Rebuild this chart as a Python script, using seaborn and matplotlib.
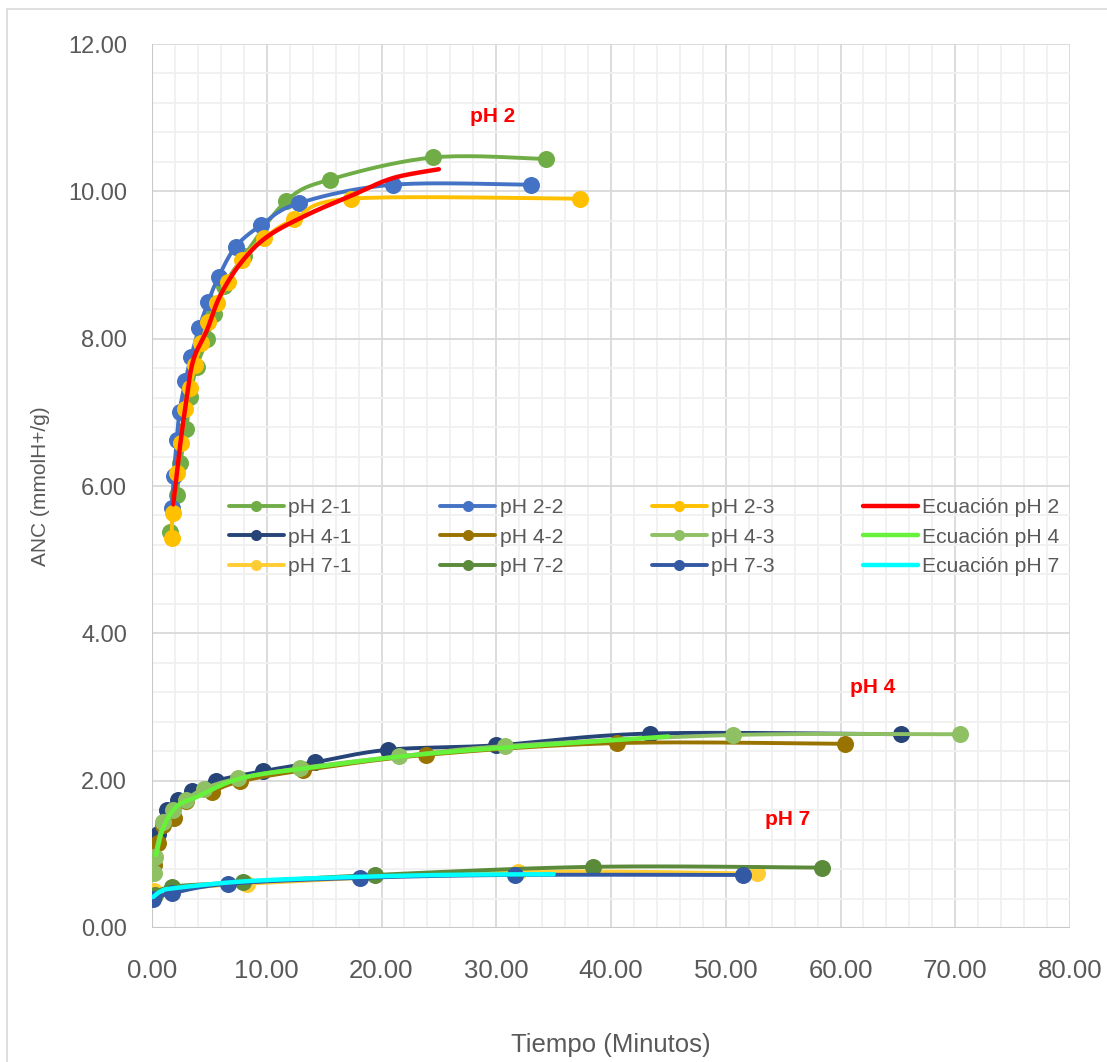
import matplotlib
matplotlib.use("Agg")
import matplotlib.pyplot as plt
import matplotlib.patches as patches
from matplotlib.lines import Line2D
import numpy as np
import pandas as pd
import seaborn as sns

# data (time in minutes, ANC in mmolH+/g)
ph2_1_x = [1.6, 2.15, 2.45, 3.0, 3.3, 3.9, 4.8, 5.4, 6.3, 8.0, 11.7, 15.5, 24.5, 34.3]
ph2_1_y = [5.37, 5.88, 6.31, 6.78, 7.21, 7.62, 8.00, 8.34, 8.72, 9.12, 9.87, 10.16, 10.46, 10.44]
ph2_2_x = [1.7, 1.9, 2.15, 2.4, 2.9, 3.4, 4.1, 4.9, 5.8, 7.3, 9.5, 12.8, 21.0, 33.0]
ph2_2_y = [5.70, 6.13, 6.62, 7.01, 7.42, 7.75, 8.14, 8.50, 8.84, 9.25, 9.54, 9.84, 10.09, 10.09]
ph2_3_x = [1.7, 1.8, 2.15, 2.5, 2.9, 3.3, 3.75, 4.3, 4.9, 5.7, 6.65, 7.8, 9.8, 12.4, 17.3, 37.3]
ph2_3_y = [5.29, 5.64, 6.17, 6.59, 7.04, 7.33, 7.64, 7.94, 8.23, 8.48, 8.77, 9.07, 9.37, 9.62, 9.90, 9.90]
eq2_x = [1.85, 2.4, 3.0, 3.6, 4.8, 5.9, 7.7, 10.0, 13.5, 17.5, 21.0, 25.0]
eq2_y = [5.75, 6.49, 7.17, 7.71, 8.12, 8.57, 9.02, 9.38, 9.68, 9.95, 10.18, 10.30]

ph4_1_x = [0.0, 0.55, 1.3, 2.25, 3.45, 5.6, 9.7, 14.2, 20.6, 30.0, 43.4, 65.3]
ph4_1_y = [0.81, 1.28, 1.60, 1.74, 1.86, 2.00, 2.13, 2.25, 2.42, 2.48, 2.64, 2.63]
ph4_2_x = [0.2, 0.5, 1.0, 1.9, 3.0, 5.2, 7.7, 13.2, 23.9, 40.5, 60.4]
ph4_2_y = [0.85, 1.15, 1.40, 1.50, 1.72, 1.85, 1.99, 2.14, 2.35, 2.51, 2.50]
ph4_3_x = [0.17, 0.26, 1.0, 1.85, 3.0, 4.5, 7.5, 12.9, 21.5, 30.8, 50.6, 70.4]
ph4_3_y = [0.74, 0.97, 1.44, 1.60, 1.74, 1.89, 2.03, 2.17, 2.33, 2.47, 2.62, 2.63]
eq4_x = [0.35, 1.0, 2.15, 3.9, 7.7, 13.5, 25.1, 45.0]
eq4_y = [0.99, 1.37, 1.65, 1.78, 2.03, 2.17, 2.38, 2.60]

ph7_1_x = [0.2, 8.25, 31.9, 52.75]
ph7_1_y = [0.50, 0.60, 0.76, 0.74]
ph7_2_x = [0.3, 1.7, 7.96, 19.4, 38.4, 58.4]
ph7_2_y = [0.45, 0.56, 0.62, 0.72, 0.83, 0.82]
ph7_3_x = [0.12, 1.7, 6.65, 18.1, 31.6, 51.5]
ph7_3_y = [0.40, 0.47, 0.60, 0.68, 0.72, 0.72]
eq7_x = [0.1, 0.8, 1.9, 7.7, 15.0, 25.1, 35.0]
eq7_y = [0.42, 0.50, 0.54, 0.63, 0.68, 0.72, 0.73]

measured = [
    ("pH 2-1", ph2_1_x, ph2_1_y, "#70AD47"),
    ("pH 2-2", ph2_2_x, ph2_2_y, "#4472C4"),
    ("pH 2-3", ph2_3_x, ph2_3_y, "#FFC000"),
    ("pH 4-1", ph4_1_x, ph4_1_y, "#264478"),
    ("pH 4-2", ph4_2_x, ph4_2_y, "#997300"),
    ("pH 4-3", ph4_3_x, ph4_3_y, "#8FC064"),
    ("pH 7-1", ph7_1_x, ph7_1_y, "#FFCD33"),
    ("pH 7-2", ph7_2_x, ph7_2_y, "#5A8A3A"),
    ("pH 7-3", ph7_3_x, ph7_3_y, "#3359A4"),
]
equations = [
    ("Ecuación pH 2", eq2_x, eq2_y, "#FF0000"),
    ("Ecuación pH 4", eq4_x, eq4_y, "#66F23A"),
    ("Ecuación pH 7", eq7_x, eq7_y, "#00FFFF"),
]


def smooth_path(xs, ys, n=20):
    # Excel-style smoothed line (Catmull-Rom through the points), only for drawing the line
    p = np.column_stack([xs, ys]).astype(float)
    p = np.vstack([p[0], p, p[-1]])
    out = []
    t = np.linspace(0, 1, n, endpoint=False)[:, None]
    for i in range(1, len(p) - 2):
        p0, p1, p2, p3 = p[i - 1], p[i], p[i + 1], p[i + 2]
        c1 = p1 + (p2 - p0) / 6
        c2 = p2 - (p3 - p1) / 6
        seg = ((1 - t) ** 3) * p1 + 3 * ((1 - t) ** 2) * t * c1 + 3 * (1 - t) * t ** 2 * c2 + t ** 3 * p2
        out.append(seg)
    out.append(p[-2][None, :])
    out = np.vstack(out)
    return out[:, 0], out[:, 1]


sns.set_style("white")
plt.rcParams['font.family'] = ['Liberation Sans', 'DejaVu Sans']

fig = plt.figure(figsize=(11.07, 10.62), dpi=100)
ax = fig.add_axes([152/1107, 1 - 928/1062, 918/1107, 884/1062])

handles = {}
z = 3
for name, xs, ys, col in measured:
    sx, sy = smooth_path(xs, ys)
    sns.lineplot(x=sx, y=sy, ax=ax, sort=False, estimator=None, color=col, linewidth=2.8, zorder=z)
    sns.scatterplot(x=xs, y=ys, ax=ax, color=col, s=150, linewidth=0, zorder=z + 0.5)
    z += 1
    handles[name] = Line2D([], [], color=col, linewidth=2.8, marker='o', markersize=8, markeredgewidth=0)
for name, xs, ys, col in equations:
    sx, sy = smooth_path(xs, ys)
    sns.lineplot(x=sx, y=sy, ax=ax, sort=False, estimator=None, color=col, linewidth=3.2, zorder=z)
    z += 1
    handles[name] = Line2D([], [], color=col, linewidth=3.2)

ax.set_xlim(0, 80)
ax.set_ylim(0, 12)
ax.set_xticks(np.arange(0, 81, 10))
ax.set_yticks(np.arange(0, 12.1, 2))
ax.set_xticks(np.arange(0, 81, 2), minor=True)
ax.set_yticks(np.arange(0, 12.1, 0.4), minor=True)
ax.set_xticklabels([f"{v:.2f}" for v in np.arange(0, 81, 10)])
ax.set_yticklabels([f"{v:.2f}" for v in np.arange(0, 12.1, 2)])
ax.grid(which='major', color='#D9D9D9', linewidth=1.3)
ax.grid(which='minor', color='#F0F0F0', linewidth=1.3)
ax.set_axisbelow(True)
ax.tick_params(axis='x', which='both', length=0, labelsize=18.5, colors='#595959', pad=22)
ax.tick_params(axis='y', which='both', length=0, labelsize=17, colors='#595959', pad=18)
for s in ax.spines.values():
    s.set_visible(False)
ax.axvline(0, color='#C8C8C8', linewidth=1.5, zorder=1)
ax.axhline(0, color='#C8C8C8', linewidth=1.5, zorder=1)

ax.set_xlabel("Tiempo (Minutos)", fontsize=18.5, color='#595959', labelpad=36)
ax.set_ylabel("ANC (mmolH+/g)", fontsize=15, color='#595959', labelpad=13)

ax.text(29.7, 11.01, "pH 2", color='red', fontsize=15, fontweight='bold', ha='center', va='center')
ax.text(62.8, 3.26, "pH 4", color='red', fontsize=15, fontweight='bold', ha='center', va='center')
ax.text(55.4, 1.47, "pH 7", color='red', fontsize=15, fontweight='bold', ha='center', va='center')

order = ["pH 2-1", "pH 4-1", "pH 7-1", "pH 2-2", "pH 4-2", "pH 7-2",
         "pH 2-3", "pH 4-3", "pH 7-3", "Ecuación pH 2", "Ecuación pH 4", "Ecuación pH 7"]
ax.legend([handles[k] for k in order], order, ncol=4,
          loc='upper left', bbox_to_anchor=((229 - 152) / 918, (928 - 498) / 884),
          frameon=False, fontsize=15.2, labelcolor='#595959', borderaxespad=0, borderpad=0,
          handlelength=2.6, handletextpad=0.2, columnspacing=4.2, labelspacing=0.5)

fig.patches.append(patches.Rectangle((7/1107, -0.1), 1.2, 1 - 9/1062 + 0.1,
                                     transform=fig.transFigure, fill=False,
                                     edgecolor='#D9D9D9', linewidth=1.2))

fig.savefig("out.png", dpi=100)
